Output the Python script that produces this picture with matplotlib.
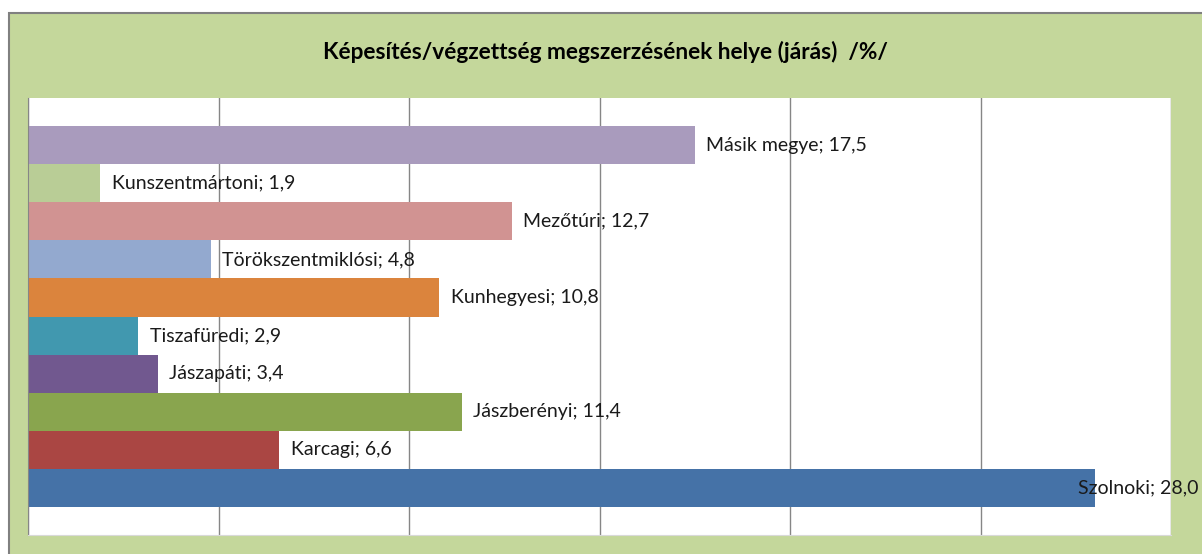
import matplotlib.pyplot as plt
from matplotlib.patches import Rectangle

# Data (bottom to top, as drawn)
jarasok = ['Szolnoki', 'Karcagi', 'Jászberényi', 'Jászapáti', 'Tiszafüredi',
           'Kunhegyesi', 'Törökszentmiklósi', 'Mezőtúri', 'Kunszentmártoni', 'Másik megye']
ertekek = [28.0, 6.6, 11.4, 3.4, 2.9, 10.8, 4.8, 12.7, 1.9, 17.5]
szinek = ['#4572A7', '#AA4643', '#89A54E', '#71588F', '#4198AF',
          '#DB843D', '#93A9CF', '#D19392', '#B9CD96', '#A99BBD']
cim = 'Képesítés/végzettség megszerzésének helye (járás)  /%/'

W, H = 1202, 554
plt.rcParams['font.family'] = ['Lato', 'DejaVu Sans']
fig = plt.figure(figsize=(W / 100, H / 100), dpi=100)
fig.patch.set_facecolor('white')

# green chart area, cropped at right and bottom
fig.patches.append(Rectangle((9 / W, -0.05), 1.1, 1.05 - 13 / H, transform=fig.transFigure,
                             facecolor='#C4D79B', edgecolor='#808080', linewidth=1.5, zorder=-10))

ax = fig.add_axes([28 / W, (H - 535) / H, (1171 - 28) / W, (535 - 98) / H])
ax.set_facecolor('white')

y = range(len(jarasok))
ax.barh(y, ertekek, height=1.0, color=szinek, zorder=2)

ax.set_xlim(0, 30)
ax.set_ylim(-0.5 - 0.74, len(jarasok) - 0.5 + 0.74)
ax.set_xticks(range(0, 31, 5))
ax.xaxis.grid(True, color='#868686', linewidth=1)
ax.set_axisbelow(True)
ax.tick_params(left=False, bottom=False, labelleft=False, labelbottom=False)
for s in ['top', 'right']:
    ax.spines[s].set_visible(False)
ax.spines['left'].set_color('#868686')
ax.spines['bottom'].set_color('#D9D9D9')

for i, (nev, v) in enumerate(zip(jarasok, ertekek)):
    txt = f'{nev}; {v:.1f}'.replace('.', ',')
    if v == max(ertekek):
        ax.annotate(txt, (v, i), xytext=(75, 0), textcoords='offset points',
                    ha='right', va='center', fontsize=14, color='#1a1a1a',
                    annotation_clip=False, zorder=3)
    else:
        ax.annotate(txt, (v, i), xytext=(8, 0), textcoords='offset points',
                    ha='left', va='center', fontsize=14, color='#1a1a1a', zorder=3)

fig.text(605 / W, 1 - 52 / H, cim, ha='center', va='center',
         fontsize=16.3, fontweight='bold', color='black')

fig.savefig('out.png', dpi=100)
